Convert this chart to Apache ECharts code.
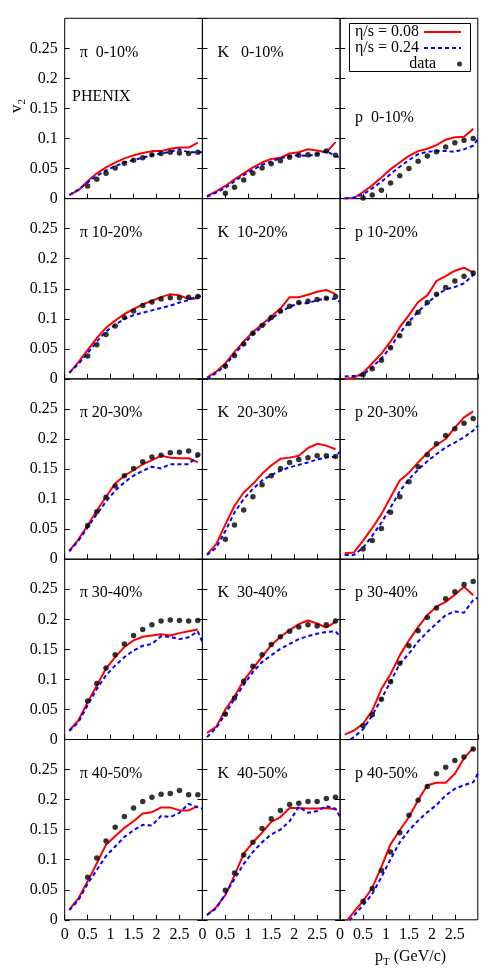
<!DOCTYPE html>
<html>
<head>
<meta charset="utf-8">
<script src="https://cdn.jsdelivr.net/npm/echarts@6/dist/echarts.min.js"></script>
<style>
  html, body { margin: 0; padding: 0; background: #fff; }
  #chart { width: 498px; height: 980px; }
</style>
</head>
<body>
<div id="chart"></div>
<script>
// pT grids (GeV/c)
const ptModel = [0.1, 0.3, 0.5, 0.7, 0.9, 1.1, 1.3, 1.5, 1.7, 1.9, 2.1, 2.3, 2.5, 2.7, 2.9]
const ptModelEdge = [0.1, 0.3, 0.5, 0.7, 0.9, 1.1, 1.3, 1.5, 1.7, 1.9, 2.1, 2.3, 2.5, 2.7, 2.9, 3.0]
const ptData = [0.5, 0.7, 0.9, 1.1, 1.3, 1.5, 1.7, 1.9, 2.1, 2.3, 2.5, 2.7, 2.9]

const piLabels = ['π  0-10%', 'π 10-20%', 'π 20-30%', 'π 30-40%', 'π 40-50%']
const kLabels = ['K   0-10%', 'K  10-20%', 'K  20-30%', 'K  30-40%', 'K  40-50%']
const pLabels = ['p  0-10%', 'p 10-20%', 'p 20-30%', 'p 30-40%', 'p 40-50%']

// v2 vs pT, one row per centrality class (0-10% ... 40-50%)
const pi08 = [
  [0.006, 0.014, 0.029, 0.042, 0.052, 0.060, 0.067, 0.072, 0.076, 0.079, 0.079, 0.083, 0.085, 0.085, 0.093],
  [0.010, 0.028, 0.048, 0.068, 0.085, 0.097, 0.108, 0.116, 0.124, 0.130, 0.136, 0.141, 0.139, 0.133, 0.134],
  [0.014, 0.033, 0.056, 0.081, 0.104, 0.126, 0.139, 0.148, 0.158, 0.165, 0.172, 0.169, 0.168, 0.168, 0.161],
  [0.015, 0.032, 0.062, 0.090, 0.118, 0.137, 0.154, 0.165, 0.171, 0.173, 0.175, 0.173, 0.177, 0.180, 0.183],
  [0.017, 0.036, 0.064, 0.094, 0.125, 0.139, 0.153, 0.164, 0.177, 0.179, 0.187, 0.187, 0.182, 0.182, 0.189],
]
const pi24 = [
  [0.006, 0.015, 0.027, 0.038, 0.047, 0.054, 0.060, 0.064, 0.068, 0.072, 0.075, 0.078, 0.082, 0.077, 0.077, 0.077],
  [0.010, 0.025, 0.043, 0.062, 0.079, 0.090, 0.100, 0.106, 0.110, 0.114, 0.118, 0.122, 0.127, 0.131, 0.138, 0.137],
  [0.013, 0.031, 0.053, 0.075, 0.096, 0.114, 0.128, 0.139, 0.147, 0.154, 0.151, 0.158, 0.158, 0.158, 0.172, 0.173],
  [0.014, 0.029, 0.057, 0.084, 0.107, 0.123, 0.137, 0.148, 0.156, 0.159, 0.172, 0.171, 0.167, 0.170, 0.180, 0.162],
  [0.016, 0.033, 0.060, 0.083, 0.106, 0.122, 0.138, 0.149, 0.158, 0.157, 0.173, 0.171, 0.178, 0.193, 0.187, 0.185],
]
const piData = [
  [0.021, 0.032, 0.042, 0.051, 0.059, 0.064, 0.068, 0.073, 0.075, 0.077, 0.076, 0.075, 0.077],
  [0.038, 0.057, 0.074, 0.088, 0.102, 0.113, 0.122, 0.128, 0.133, 0.135, 0.135, 0.136, 0.137],
  [0.056, 0.079, 0.103, 0.122, 0.139, 0.151, 0.162, 0.170, 0.173, 0.177, 0.178, 0.180, 0.174],
  [0.064, 0.093, 0.119, 0.141, 0.159, 0.173, 0.183, 0.191, 0.197, 0.199, 0.198, 0.197, 0.198],
  [0.071, 0.103, 0.131, 0.154, 0.172, 0.186, 0.197, 0.204, 0.209, 0.210, 0.215, 0.208, 0.208],
]

const k08 = [
  [0.004, 0.012, 0.021, 0.032, 0.042, 0.052, 0.060, 0.066, 0.068, 0.075, 0.077, 0.082, 0.080, 0.077, 0.094],
  [0.002, 0.012, 0.026, 0.045, 0.062, 0.078, 0.091, 0.104, 0.117, 0.136, 0.136, 0.140, 0.145, 0.148, 0.141],
  [0.008, 0.025, 0.058, 0.089, 0.111, 0.125, 0.142, 0.156, 0.167, 0.169, 0.172, 0.185, 0.192, 0.189, 0.183],
  [0.011, 0.021, 0.050, 0.072, 0.098, 0.118, 0.138, 0.157, 0.171, 0.182, 0.192, 0.198, 0.193, 0.186, 0.196],
  [0.008, 0.021, 0.041, 0.074, 0.110, 0.129, 0.145, 0.163, 0.171, 0.186, 0.186, 0.185, 0.185, 0.186, 0.184],
]
const k24 = [
  [0.003, 0.010, 0.018, 0.029, 0.039, 0.048, 0.056, 0.062, 0.067, 0.071, 0.072, 0.071, 0.074, 0.079, 0.071, 0.068],
  [0.000, 0.010, 0.022, 0.042, 0.058, 0.074, 0.087, 0.100, 0.111, 0.120, 0.126, 0.126, 0.131, 0.134, 0.133, 0.128],
  [0.007, 0.019, 0.047, 0.078, 0.100, 0.117, 0.131, 0.140, 0.147, 0.153, 0.157, 0.161, 0.166, 0.169, 0.171, 0.179],
  [0.004, 0.019, 0.043, 0.068, 0.091, 0.112, 0.129, 0.140, 0.151, 0.159, 0.167, 0.172, 0.176, 0.179, 0.180, 0.171],
  [0.008, 0.019, 0.043, 0.068, 0.093, 0.113, 0.129, 0.142, 0.150, 0.164, 0.188, 0.178, 0.181, 0.189, 0.185, 0.171],
]
const kData = [
  [0.009, 0.019, 0.031, 0.042, 0.051, 0.058, 0.063, 0.069, 0.072, 0.073, 0.074, 0.079, 0.072],
  [0.021, 0.039, 0.058, 0.076, 0.089, 0.102, 0.113, 0.121, 0.127, 0.129, 0.132, 0.134, 0.137],
  [0.033, 0.057, 0.082, 0.104, 0.124, 0.139, 0.151, 0.161, 0.166, 0.169, 0.172, 0.172, 0.171],
  [0.042, 0.069, 0.097, 0.122, 0.141, 0.158, 0.171, 0.180, 0.187, 0.191, 0.189, 0.191, 0.197],
  [0.049, 0.078, 0.108, 0.129, 0.152, 0.168, 0.182, 0.192, 0.194, 0.197, 0.197, 0.202, 0.204],
]

const p08 = [
  [0.000, 0.001, 0.011, 0.022, 0.035, 0.049, 0.060, 0.071, 0.079, 0.083, 0.089, 0.098, 0.102, 0.103, 0.116],
  [0.000, 0.002, 0.010, 0.026, 0.042, 0.062, 0.086, 0.106, 0.128, 0.139, 0.163, 0.171, 0.180, 0.185, 0.177],
  [0.010, 0.011, 0.031, 0.052, 0.075, 0.103, 0.131, 0.144, 0.161, 0.177, 0.190, 0.200, 0.219, 0.236, 0.246],
  [0.008, 0.015, 0.026, 0.048, 0.084, 0.109, 0.140, 0.165, 0.187, 0.207, 0.221, 0.229, 0.241, 0.254, 0.240],
  [-0.006, 0.013, 0.031, 0.053, 0.088, 0.126, 0.149, 0.171, 0.199, 0.224, 0.228, 0.228, 0.243, 0.269, 0.286],
]
const p24 = [
  [0.000, 0.002, 0.007, 0.017, 0.028, 0.041, 0.053, 0.064, 0.074, 0.078, 0.079, 0.079, 0.078, 0.082, 0.088, 0.099],
  [0.004, 0.005, 0.006, 0.020, 0.034, 0.053, 0.076, 0.095, 0.112, 0.126, 0.139, 0.149, 0.153, 0.159, 0.173, 0.176],
  [0.007, 0.007, 0.019, 0.039, 0.061, 0.086, 0.113, 0.133, 0.149, 0.163, 0.175, 0.186, 0.194, 0.203, 0.214, 0.222],
  [-0.006, 0.004, 0.017, 0.040, 0.068, 0.096, 0.126, 0.143, 0.163, 0.179, 0.193, 0.207, 0.213, 0.211, 0.232, 0.236],
  [-0.010, 0.007, 0.024, 0.043, 0.071, 0.101, 0.129, 0.149, 0.165, 0.179, 0.191, 0.207, 0.218, 0.224, 0.229, 0.243],
]
const pData = [
  [0.001, 0.006, 0.014, 0.026, 0.038, 0.050, 0.062, 0.071, 0.078, 0.086, 0.093, 0.097, 0.100],
  [0.007, 0.017, 0.031, 0.052, 0.072, 0.092, 0.111, 0.127, 0.141, 0.152, 0.163, 0.171, 0.176],
  [0.017, 0.031, 0.051, 0.078, 0.104, 0.129, 0.154, 0.174, 0.192, 0.206, 0.217, 0.226, 0.234],
  [0.023, 0.041, 0.067, 0.096, 0.127, 0.156, 0.181, 0.203, 0.219, 0.234, 0.246, 0.258, 0.263],
  [0.031, 0.052, 0.082, 0.113, 0.145, 0.174, 0.199, 0.222, 0.243, 0.254, 0.265, 0.271, 0.284],
]

const NAME_LOW = 'η/s = 0.08'
const NAME_HIGH = 'η/s = 0.24'
const NAME_DATA = 'data'
const FONT = 'Liberation Serif'

const columns = [
  { low: pi08, high: pi24, meas: piData, labels: piLabels },
  { low: k08, high: k24, meas: kData, labels: kLabels },
  { low: p08, high: p24, meas: pData, labels: pLabels },
]

const PANEL_LEFT = 64.7
const PANEL_TOP = 18.3
const PANEL_W = 137.7
const PANEL_H = 180.3

const grids = []
const xAxes = []
const yAxes = []
const series = []
const texts = []

const tick = { inside: true, length: 5, lineStyle: { color: '#000', width: 1 } }

for (let r = 0; r < 5; r++) {
  for (let c = 0; c < 3; c++) {
    const idx = r * 3 + c
    const left = PANEL_LEFT + c * PANEL_W
    const top = PANEL_TOP + r * PANEL_H
    grids.push({
      left, top, width: PANEL_W, height: PANEL_H,
      show: true, borderColor: '#000', borderWidth: 1,
    })
    xAxes.push({
      gridIndex: idx, type: 'value', min: 0, max: 3, interval: 0.5,
      axisLine: { show: false }, axisTick: tick, splitLine: { show: false },
      axisLabel: {
        show: r === 4, showMaxLabel: false, color: '#000',
        fontFamily: FONT, fontSize: 16, margin: 7,
      },
    })
    const yIdx = yAxes.length
    yAxes.push({
      gridIndex: idx, type: 'value', min: 0, max: 0.3, interval: 0.05,
      axisLine: { show: false }, axisTick: tick, splitLine: { show: false },
      axisLabel: {
        show: c === 0, showMaxLabel: false, color: '#000',
        fontFamily: FONT, fontSize: 16, margin: 7,
      },
    })
    if (c < 2) {
      yAxes.push({
        gridIndex: idx, type: 'value', position: 'right', min: 0, max: 0.3, interval: 0.05,
        axisLine: { show: false }, axisTick: tick, splitLine: { show: false },
        axisLabel: { show: false },
      })
    }

    const col = columns[c]
    series.push({
      name: NAME_LOW, type: 'line', xAxisIndex: idx, yAxisIndex: yIdx,
      data: ptModel.map((pt, i) => [pt, col.low[r][i]]),
      symbol: 'none', clip: true,
      lineStyle: { color: '#ff0000', width: 2 }, itemStyle: { color: '#ff0000' },
    })
    series.push({
      name: NAME_HIGH, type: 'line', xAxisIndex: idx, yAxisIndex: yIdx,
      data: ptModelEdge.map((pt, i) => [pt, col.high[r][i]]),
      symbol: 'none', clip: true,
      lineStyle: { color: '#0000ff', width: 2, type: [4, 3] }, itemStyle: { color: '#0000ff' },
    })
    series.push({
      name: NAME_DATA, type: 'scatter', xAxisIndex: idx, yAxisIndex: yIdx,
      data: ptData.map((pt, i) => [pt, col.meas[r][i]]),
      symbol: 'circle', symbolSize: 5.5, itemStyle: { color: '#000' }, z: 3,
    })

    // p 0-10% label sits lower, under the legend box
    const labelDy = (r === 0 && c === 2) ? 99 : 34
    texts.push({
      type: 'text', x: left + 15, y: top + labelDy, silent: true,
      style: {
        text: col.labels[r], fill: '#000', font: `16px "${FONT}"`,
        verticalAlign: 'middle', align: 'left',
      },
    })
  }
}

texts.push({
  type: 'text', x: 72, y: 97, silent: true,
  style: { text: 'PHENIX', fill: '#000', font: `16px "${FONT}"`, verticalAlign: 'middle' },
})
texts.push({
  type: 'text', x: 17, y: 106, rotation: Math.PI / 2, silent: true,
  style: {
    text: '{a|v}{b|2}', align: 'center', verticalAlign: 'middle',
    rich: {
      a: { fontFamily: FONT, fontSize: 17, lineHeight: 22, fill: '#000' },
      b: { fontFamily: FONT, fontSize: 11, lineHeight: 11, verticalAlign: 'bottom', fill: '#000' },
    },
  },
})
texts.push({
  type: 'text', x: 375, y: 957, silent: true,
  style: {
    text: '{a|p}{b|T}{a| (GeV/c)}', align: 'left', verticalAlign: 'middle',
    rich: {
      a: { fontFamily: FONT, fontSize: 16, lineHeight: 22, fill: '#000' },
      b: { fontFamily: FONT, fontSize: 11, lineHeight: 11, verticalAlign: 'bottom', fill: '#000' },
    },
  },
})
texts.push({
  type: 'rect', shape: { x: 349.5, y: 23.5, width: 121, height: 48 }, silent: true,
  style: { fill: 'none', stroke: '#000', lineWidth: 1 },
})

const legendText = { fontFamily: FONT, fontSize: 16, color: '#000' }
function legendRow(name, top, isLine) {
  const item = isLine
    ? { name, itemStyle: { color: 'transparent', borderColor: 'transparent', borderWidth: 0 } }
    : { name, icon: 'circle' }
  return {
    data: [item],
    right: 31, top, align: 'right', orient: 'horizontal',
    itemWidth: 37, itemHeight: isLine ? 4 : 5, itemGap: 0,
    textStyle: legendText, selectedMode: false,
  }
}

const chart = echarts.init(document.getElementById('chart'))
chart.setOption({
  animation: false,
  backgroundColor: '#fff',
  grid: grids,
  xAxis: xAxes,
  yAxis: yAxes,
  legend: [
    legendRow(NAME_LOW, 19, true),
    legendRow(NAME_HIGH, 35, true),
    legendRow(NAME_DATA, 51, false),
  ],
  series,
  graphic: texts,
})
</script>
</body>
</html>
